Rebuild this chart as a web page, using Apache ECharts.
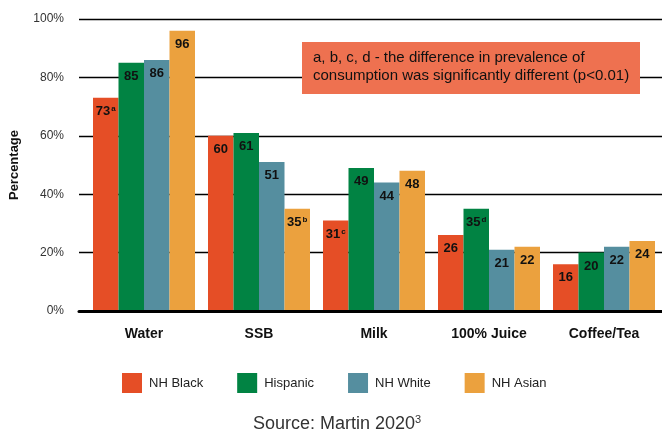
<!DOCTYPE html>
<html>
<head>
<meta charset="utf-8">
<script src="https://cdn.jsdelivr.net/npm/echarts@6/dist/echarts.min.js"></script>
<style>
  html, body { margin: 0; padding: 0; background: #fff; }
  #chart { width: 662px; height: 429px; }
</style>
</head>
<body>
<div id="chart"></div>
<script>
// Beverage consumption prevalence by race/ethnicity (%)
const categories = ['Water', 'SSB', 'Milk', '100% Juice', 'Coffee/Tea'];
const seriesNames = ['NH Black', 'Hispanic', 'NH White', 'NH Asian'];
const nhBlack  = [73, 60, 31, 26, 16];
const hispanic = [85, 61, 49, 35, 20];
const nhWhite  = [86, 51, 44, 21, 22];
const nhAsian  = [96, 35, 48, 22, 24];
// significance markers shown as superscripts
const nhBlackSup  = ['a', '', 'c', '', ''];
const hispanicSup = ['', '', '', 'd', ''];
const nhWhiteSup  = ['', '', '', '', ''];
const nhAsianSup  = ['', 'b', '', '', ''];
const yTicks = [0, 20, 40, 60, 80, 100];
const colors = ['#E54E26', '#018343', '#558E9F', '#EBA13E'];

const values = [nhBlack, hispanic, nhWhite, nhAsian];
const sups = [nhBlackSup, hispanicSup, nhWhiteSup, nhAsianSup];
const FONT = '"Liberation Sans", Arial, Helvetica, sans-serif';

const chart = echarts.init(document.getElementById('chart'), null, { renderer: 'canvas' });

const series = seriesNames.map((name, i) => ({
  name: name,
  type: 'bar',
  xAxisIndex: 1,
  yAxisIndex: 1,
  zlevel: 1,
  barGap: 0,
  barWidth: 25.5,
  itemStyle: { color: colors[i] },
  data: values[i],
  label: {
    show: true,
    position: 'insideTop',
    distance: 7,
    formatter: p => {
      const s = sups[i][p.dataIndex];
      return s ? '{v|' + p.value + '}{s|' + s + '}' : '{v|' + p.value + '}';
    },
    rich: {
      v: { fontFamily: FONT, fontWeight: 'bold', fontSize: 13, color: '#111' },
      s: { fontFamily: FONT, fontWeight: 'bold', fontSize: 8, color: '#111', verticalAlign: 'top', padding: [0, 0, 6, 1] }
    }
  }
}));

chart.setOption({
  animation: false,
  textStyle: { fontFamily: FONT },
  grid: [
    { left: 76, right: 0, top: 19, bottom: 118 },
    { left: 86.5, right: 0.5, top: 19, bottom: 118 }
  ],
  xAxis: [
    {
      type: 'value', gridIndex: 0, min: 0, max: 1, zlevel: 2,
      axisLine: { show: true, onZero: false, lineStyle: { color: '#000', width: 3 } },
      axisTick: { show: false }, axisLabel: { show: false }, splitLine: { show: false }
    },
    {
      type: 'category', gridIndex: 1, data: categories,
      axisLine: { show: false }, axisTick: { show: false },
      axisLabel: { fontFamily: FONT, fontWeight: 'bold', fontSize: 14, color: '#111', margin: 16 }
    }
  ],
  yAxis: [
    {
      type: 'value', gridIndex: 0, min: yTicks[0], max: yTicks[yTicks.length - 1], interval: 20,
      name: 'Percentage', nameLocation: 'middle', nameGap: 58,
      nameTextStyle: { fontFamily: FONT, fontWeight: 'bold', fontSize: 13, color: '#111' },
      axisLine: { show: false }, axisTick: { show: false },
      axisLabel: { formatter: '{value}%', fontFamily: FONT, fontSize: 12, color: '#333', margin: 15 },
      splitLine: { show: true, lineStyle: { color: '#000', width: 1.3 } }
    },
    {
      type: 'value', gridIndex: 1, min: 0, max: 100,
      show: false, splitLine: { show: false }
    }
  ],
  legend: {
    data: seriesNames,
    left: 122, top: 373, padding: 0,
    itemWidth: 20, itemHeight: 20, itemGap: 34,
    icon: 'rect',
    textStyle: { fontFamily: FONT, fontSize: 13, color: '#222', padding: [0, 0, 0, 2] }
  },
  title: {
    text: '{t|Source: Martin 2020}{s|3}',
    left: 253, top: 414, padding: 0,
    textStyle: {
      fontWeight: 'normal',
      rich: {
        t: { fontFamily: FONT, fontSize: 18, fontWeight: 'normal', color: '#333' },
        s: { fontFamily: FONT, fontSize: 11, fontWeight: 'normal', color: '#333', verticalAlign: 'top', padding: [0, 0, 9, 0] }
      }
    }
  },
  graphic: [
    {
      type: 'group', left: 302, top: 42, zlevel: 1,
      children: [
        { type: 'rect', z: 100, shape: { x: 0, y: 0, width: 338, height: 52 }, style: { fill: '#EE7150' } },
        {
          type: 'text', z: 101, left: 11, top: 7,
          style: {
            text: 'a, b, c, d - the difference in prevalence of\nconsumption was significantly different (p<0.01)',
            font: '15px ' + FONT, fill: '#111', lineHeight: 18
          }
        }
      ]
    }
  ],
  series: series
});
</script>
</body>
</html>
